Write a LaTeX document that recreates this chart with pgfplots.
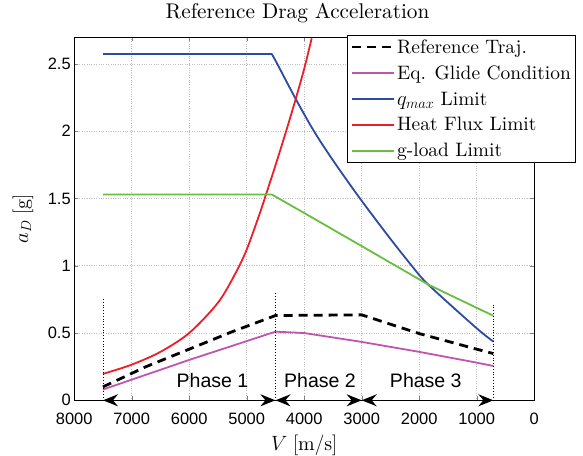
\documentclass[border=0pt]{standalone}
\usepackage{fontspec}
\setmainfont{lmroman10-regular.otf}[ItalicFont=lmroman10-italic.otf, BoldFont=lmroman10-bold.otf]
\newfontfamily\arialish{Liberation Sans}
\usepackage{pgfplots}
\pgfplotsset{compat=1.18}
\usetikzlibrary{arrows.meta}

\definecolor{glide}{RGB}{190,85,175}
\definecolor{qlim}{RGB}{45,75,160}
\definecolor{heat}{RGB}{237,30,40}
\definecolor{gload}{RGB}{105,190,65}

\tikzset{phasearrow/.style={black, line width=1.6bp,
  arrows={Stealth[length=15bp,width=12bp,inset=5bp]-Stealth[length=15bp,width=12bp,inset=5bp]}}}

\begin{document}
\begin{tikzpicture}
\useasboundingbox (-74.2bp,-55.7bp) rectangle (508.8bp,400.3bp);
\begin{axis}[
  at={(0,0)}, anchor=south west,
  scale only axis, width=460bp, height=363.3bp,
  x dir=reverse, xmin=0, xmax=8000, ymin=0, ymax=2.7,
  xtick={0,1000,...,8000}, ytick={0,0.5,...,2.5},
  scaled x ticks=false,
  /pgf/number format/1000 sep={},
  /pgf/number format/assume math mode=true,
  ticklabel style={font=\arialish\fontsize{16.5}{19}\selectfont},
  xticklabel style={yshift=-9bp},
  grid=major, grid style={dotted, gray!50, line width=0.7bp},
  axis line style={line width=0.8bp},
  clip=false,
  title={Reference Drag Acceleration},
  title style={font=\fontsize{21.3}{25}\selectfont, at={(axis description cs:0.4855,1)}, anchor=base, yshift=13bp},
  xlabel={$V\;[\mathrm{m/s}]$},
  xlabel style={font=\fontsize{20}{23}\selectfont, at={(axis description cs:0.5,0)}, anchor=base, yshift=-50bp},
  ylabel={$a_D\;[\mathrm{g}]$},
  ylabel style={font=\fontsize{20}{23}\selectfont, at={(axis description cs:-0.1004,0.5)}, anchor=base},
  legend cell align=left,
  legend image code/.code={\draw[#1] (0bp,0bp) -- (42bp,0bp);},
  legend style={at={(axis description cs:0.593,1.0055)}, anchor=north west,
    draw=black, line width=0.8bp, fill=white,
    font=\fontsize{19.5}{22}\selectfont, row sep=7bp,
    inner xsep=3bp, inner ysep=2bp},
]
% reference drag profile
\addplot[black, line width=2.8bp, dash pattern=on 9bp off 6bp]
  coordinates {(7500,0.10) (6750,0.25) (6000,0.38) (5250,0.51) (4500,0.63)
               (3000,0.635) (2000,0.496) (1000,0.38) (710,0.347)};
\addlegendentry{Reference Traj.}
% equilibrium glide
\addplot[glide, line width=1.8bp]
  coordinates {(7500,0.08) (6000,0.30) (4500,0.51) (4000,0.50) (3000,0.434)
               (2000,0.36) (1000,0.28) (710,0.255)};
\addlegendentry{Eq. Glide Condition}
% dynamic pressure boundary: constant part, then decreasing part
\addplot[qlim, line width=1.8bp, forget plot]
  coordinates {(7500,2.575) (4565,2.575)};
\addplot[qlim, line width=1.8bp, smooth, tension=0.5]
  coordinates {(4565,2.575) (4468,2.50) (4148,2.24) (3830,2.0) (3494,1.78)
               (3030,1.5) (2537,1.22) (2130,1.0) (1842,0.86) (1000,0.535)
               (710,0.437)};
\addlegendentry{$q_{max}$ Limit}
% heating rate boundary
\addplot[heat, line width=1.8bp, smooth, tension=0.5]
  coordinates {(7500,0.196) (7000,0.265) (6500,0.36) (6000,0.50) (5500,0.725)
               (5200,0.94) (5000,1.12) (4780,1.38) (4660,1.535) (4500,1.745)
               (4300,2.02) (4130,2.265) (3990,2.48) (3870,2.69)};
\addlegendentry{Heat Flux Limit}
% load factor boundary
\addplot[gload, line width=1.8bp]
  coordinates {(7500,1.53) (4565,1.53) (4073,1.41) (3000,1.146) (1842,0.86)
               (1000,0.687) (710,0.629)};
\addlegendentry{g-load Limit}

% phase boundaries
\addplot[black, dotted, line width=0.8bp, forget plot] coordinates {(7500,0) (7500,0.76)};
\addplot[black, dotted, line width=0.8bp, forget plot] coordinates {(4500,0) (4500,0.80)};
\addplot[black, dotted, line width=0.8bp, forget plot] coordinates {(710,0) (710,0.72)};

% phase spans
\addplot[phasearrow, forget plot] coordinates {(7500,0) (4500,0)};
\addplot[phasearrow, forget plot] coordinates {(4500,0) (3000,0)};
\addplot[phasearrow, forget plot] coordinates {(3000,0) (710,0)};

\node[font=\arialish\fontsize{19.6}{22}\selectfont, anchor=base] at (axis cs:5595,0.096) {Phase 1};
\node[font=\arialish\fontsize{19.6}{22}\selectfont, anchor=base] at (axis cs:3725,0.096) {Phase 2};
\node[font=\arialish\fontsize{19.6}{22}\selectfont, anchor=base] at (axis cs:1885,0.096) {Phase 3};
\end{axis}
\end{tikzpicture}
\end{document}
